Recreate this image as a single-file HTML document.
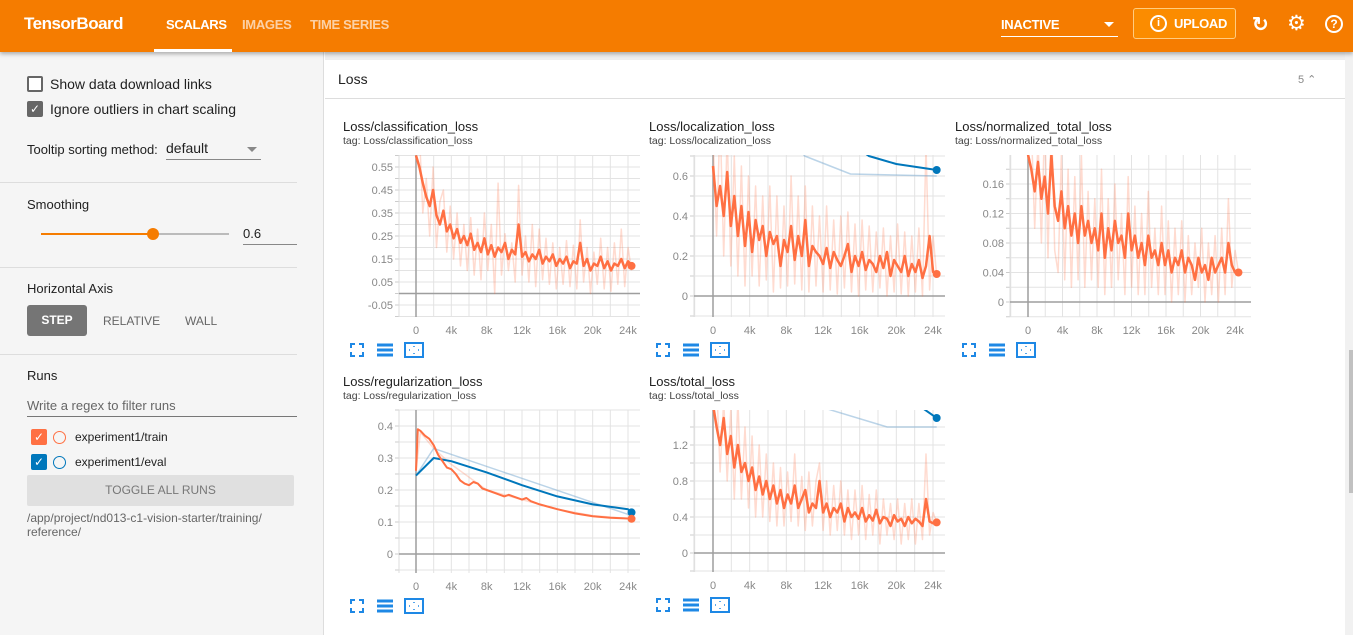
<!DOCTYPE html>
<html><head><meta charset="utf-8">
<style>
*{box-sizing:border-box;margin:0;padding:0}
body{width:1353px;height:635px;overflow:hidden;font-family:"Liberation Sans",sans-serif;background:#fff;position:relative;color:#212121}
.abs{position:absolute}
#hdr{left:0;top:0;width:1353px;height:52px;background:#f57c00;box-shadow:0 2px 4px rgba(0,0,0,.3);z-index:2}
.tab{top:17px;font-size:13px;font-weight:bold;color:rgba(255,255,255,.65);letter-spacing:-0.3px}
#side{left:0;top:52px;width:324px;height:583px;background:#f5f5f5;border-right:1px solid #ddd}
.sb{font-size:14px;color:#212121}
.hr{left:0;width:297px;height:1px;background:#ddd}
.tick{font-size:11px;fill:#888;font-family:"Liberation Sans",sans-serif}
</style></head><body>
<div id="hdr" class="abs">
  <div class="abs" style="left:24px;top:14px;font-size:17px;font-weight:bold;color:#fff;letter-spacing:-0.5px">TensorBoard</div>
  <div class="abs tab" style="left:166px;color:#fff">SCALARS</div>
  <div class="abs" style="left:154px;top:49px;width:78px;height:3px;background:#fff"></div>
  <div class="abs tab" style="left:242px">IMAGES</div>
  <div class="abs tab" style="left:310px">TIME SERIES</div>
  <div class="abs" style="left:1001px;top:17px;width:117px;height:20px;border-bottom:1px solid #fff;color:#fff;font-size:13px;font-weight:bold;letter-spacing:-0.3px">INACTIVE<span class="abs" style="right:4px;top:5px;width:0;height:0;border-left:5px solid transparent;border-right:5px solid transparent;border-top:5px solid #fff"></span></div>
  <div class="abs" style="left:1133px;top:8px;width:103px;height:31px;border:1px solid #ffcc80;border-radius:3px;background:#fb8c00;color:#fff;font-size:13px;font-weight:bold"><span class="abs" style="left:16px;top:6px;width:17px;height:17px;border:2px solid #fff;border-radius:50%;font-size:11px;text-align:center;line-height:13px">i</span><span class="abs" style="left:40px;top:7px;letter-spacing:-0.3px">UPLOAD</span></div>
  <div class="abs" style="left:1252px;top:12px;font-size:20px;color:#fff;font-weight:bold">↻</div>
  <div class="abs" style="left:1287px;top:11px;font-size:21px;color:#fff">⚙</div>
  <div class="abs" style="left:1325px;top:15px;width:18px;height:18px;border:2px solid #fff;border-radius:50%;color:#fff;font-size:12px;font-weight:bold;text-align:center;line-height:14px">?</div>
</div>

<div id="side" class="abs">
  <div class="abs" style="left:27px;top:24px;width:16px;height:16px;border:2px solid #666;border-radius:2px;background:#fff"></div>
  <div class="abs sb" style="left:50px;top:24px">Show data download links</div>
  <div class="abs" style="left:27px;top:49px;width:16px;height:16px;border-radius:2px;background:#666;color:#fff;font-size:12px;text-align:center;line-height:16px">✓</div>
  <div class="abs sb" style="left:50px;top:49px">Ignore outliers in chart scaling</div>
  <div class="abs" style="left:27px;top:90px;font-size:13px">Tooltip sorting method:</div>
  <div class="abs" style="left:166px;top:88px;width:95px;height:20px;border-bottom:1px solid #888;font-size:14px">default<span class="abs" style="right:4px;top:7px;border-left:5px solid transparent;border-right:5px solid transparent;border-top:5px solid #888"></span></div>
  <div class="abs hr" style="top:130px"></div>
  <div class="abs" style="left:27px;top:145px;font-size:13px">Smoothing</div>
  <div class="abs" style="left:41px;top:181px;width:112px;height:2px;background:#f57c00"></div>
  <div class="abs" style="left:153px;top:181px;width:76px;height:2px;background:#bbb"></div>
  <div class="abs" style="left:147px;top:176px;width:12px;height:12px;border-radius:50%;background:#f57c00"></div>
  <div class="abs" style="left:243px;top:174px;width:54px;height:19px;border-bottom:1px solid #888;font-size:13px">0.6</div>
  <div class="abs hr" style="top:215px"></div>
  <div class="abs" style="left:27px;top:229px;font-size:13px">Horizontal Axis</div>
  <div class="abs" style="left:27px;top:253px;width:60px;height:31px;background:#757575;border-radius:3px;color:#fff;font-size:12px;font-weight:bold;text-align:center;line-height:31px">STEP</div>
  <div class="abs" style="left:103px;top:262px;font-size:12px;color:#666">RELATIVE</div>
  <div class="abs" style="left:185px;top:262px;font-size:12px;color:#666">WALL</div>
  <div class="abs hr" style="top:302px"></div>
  <div class="abs" style="left:27px;top:316px;font-size:13px">Runs</div>
  <div class="abs" style="left:27px;top:346px;width:270px;height:19px;border-bottom:1px solid #777;font-size:13px;color:#666">Write a regex to filter runs</div>
  <div class="abs" style="left:31px;top:377px;width:16px;height:16px;background:#ff7043;border-radius:2px;color:#fff;font-size:12px;text-align:center;line-height:16px">✓</div>
  <div class="abs" style="left:53px;top:379px;width:13px;height:13px;border:1.5px solid #ff7043;border-radius:50%"></div>
  <div class="abs" style="left:75px;top:378px;font-size:12px">experiment1/train</div>
  <div class="abs" style="left:31px;top:402px;width:16px;height:16px;background:#0077bb;border-radius:2px;color:#fff;font-size:12px;text-align:center;line-height:16px">✓</div>
  <div class="abs" style="left:53px;top:404px;width:13px;height:13px;border:1.5px solid #0077bb;border-radius:50%"></div>
  <div class="abs" style="left:75px;top:403px;font-size:12px">experiment1/eval</div>
  <div class="abs" style="left:27px;top:423px;width:267px;height:31px;background:#e0e0e0;border-radius:2px;color:#777;font-size:12px;text-align:center;line-height:31px">TOGGLE ALL RUNS</div>
  <div class="abs" style="left:27px;top:459px;font-size:12px;color:#666;line-height:14px">/app/project/nd013-c1-vision-starter/training/<br>reference/</div>
</div>

<div class="abs" style="left:325px;top:52px;width:1020px;height:8px;background:#eee"></div>
<div class="abs" style="left:325px;top:60px;width:1020px;height:39px;border-bottom:1px solid #ddd;background:#fff">
  <div class="abs" style="left:13px;top:11px;font-size:14px">Loss</div>
  <div class="abs" style="left:973px;top:13px;font-size:11px;color:#888">5 &#8963;</div>
</div>
<div class="abs" style="left:1345px;top:52px;width:8px;height:583px;background:#f1f1f1"></div>
<div class="abs" style="left:1349px;top:350px;width:4px;height:143px;background:#c1c1c1"></div>

<svg class="abs" style="left:0;top:0" width="1353" height="635" id="charts"></svg>

<script>
// ---------- data ----------
const maxStep = 24400;
const clsTrain = [0.60,0.55,0.48,0.42,0.38,0.45,0.34,0.30,0.36,0.27,0.30,0.24,0.28,0.22,0.25,0.21,0.26,0.19,0.22,0.18,0.24,0.17,0.21,0.16,0.20,0.18,0.22,0.15,0.19,0.17,0.30,0.16,0.18,0.14,0.17,0.15,0.19,0.13,0.16,0.14,0.17,0.12,0.15,0.13,0.16,0.11,0.14,0.13,0.22,0.12,0.15,0.10,0.13,0.12,0.16,0.11,0.14,0.10,0.13,0.12,0.15,0.11,0.14,0.12];
const clsRaw = [0.60,0.70,0.35,0.50,0.25,0.55,0.20,0.40,0.45,0.18,0.38,0.15,0.35,0.12,0.30,0.10,0.33,0.08,0.28,0.06,0.35,0.10,0.30,0.00,0.48,0.08,0.26,0.10,0.22,0.05,0.47,0.08,0.25,0.05,0.30,0.03,0.28,0.06,0.24,0.04,0.22,0.02,0.20,0.04,0.23,0.03,0.21,0.02,0.32,0.05,0.20,0.00,0.18,0.04,0.24,0.02,0.20,0.01,0.22,0.04,0.28,0.03,0.20,0.10];
const locTrain = [0.65,0.45,0.55,0.40,0.62,0.35,0.50,0.30,0.45,0.25,0.42,0.22,0.38,0.28,0.35,0.20,0.32,0.26,0.30,0.15,0.28,0.22,0.35,0.18,0.30,0.20,0.38,0.15,0.25,0.22,0.20,0.16,0.24,0.14,0.22,0.18,0.15,0.20,0.26,0.12,0.20,0.15,0.22,0.13,0.18,0.16,0.12,0.20,0.14,0.22,0.10,0.18,0.15,0.12,0.20,0.10,0.16,0.12,0.18,0.09,0.15,0.30,0.12,0.11];
const locRaw = [0.8,0.3,0.9,0.2,0.8,0.15,0.7,0.1,0.65,0.05,0.6,0.1,0.55,0.05,0.5,0.08,0.55,0.02,0.5,0.04,0.45,0.05,0.6,0.06,0.5,0.03,0.55,0.02,0.45,0.05,0.4,0.02,0.45,0.03,0.38,0.01,0.4,0.04,0.42,0.02,0.36,0.0,0.38,0.03,0.35,0.02,0.32,0.04,0.34,0.0,0.30,0.02,0.36,0.01,0.32,0.0,0.30,0.02,0.34,0.0,0.75,0.03,0.30,0.10];
const locEvalSteps = [0,2000,10000,15000,24400];
const locEvalRaw = [1.6,1.2,0.7,0.61,0.60];
const locEvalSmSteps = [0,2000,8000,14000,17000,20000,24400];
const locEvalSm = [1.6,1.4,1.0,0.8,0.70,0.66,0.63];
const normTrain = [0.20,0.18,0.15,0.19,0.14,0.17,0.12,0.20,0.13,0.11,0.15,0.10,0.13,0.09,0.12,0.08,0.13,0.09,0.11,0.08,0.10,0.07,0.12,0.06,0.10,0.07,0.11,0.08,0.09,0.06,0.12,0.07,0.09,0.06,0.08,0.05,0.09,0.06,0.07,0.05,0.08,0.05,0.07,0.04,0.06,0.05,0.07,0.04,0.06,0.05,0.03,0.06,0.04,0.05,0.03,0.06,0.04,0.05,0.06,0.04,0.08,0.05,0.04,0.04];
const normRaw = [0.22,0.24,0.10,0.22,0.08,0.25,0.06,0.26,0.07,0.04,0.20,0.03,0.18,0.02,0.17,0.03,0.20,0.02,0.15,0.03,0.14,0.02,0.18,0.01,0.14,0.02,0.16,0.03,0.12,0.01,0.17,0.02,0.13,0.01,0.12,0.01,0.15,0.02,0.10,0.01,0.13,0.01,0.11,0.0,0.10,0.01,0.11,0.0,0.09,0.01,0.08,0.02,0.10,0.0,0.08,0.01,0.09,0.0,0.10,0.01,0.14,0.02,0.07,0.04];
const regSteps = [0,200,500,1000,1500,2000,2500,3000,3500,4000,4500,5000,5500,6000,6500,7000,7500,8000,9000,10000,10500,11000,12000,12500,13000,14000,16000,18000,20000,22000,24000,24400];
const regTrain = [0.26,0.39,0.385,0.37,0.36,0.34,0.31,0.29,0.27,0.265,0.25,0.23,0.22,0.215,0.225,0.22,0.205,0.2,0.19,0.18,0.185,0.18,0.17,0.175,0.165,0.155,0.14,0.127,0.118,0.113,0.111,0.11];
const regRawSteps = [0,500,2000,4000,6000,8000,12000,16000,20000,24400];
const regRaw = [0.26,0.38,0.33,0.28,0.24,0.2,0.17,0.14,0.12,0.11];
const regEvalRawSteps = [0,2000,24400];
const regEvalRaw = [0.245,0.33,0.12];
const regEvalSmSteps = [0,2000,4000,8000,12000,16000,20000,24000,24400];
const regEvalSm = [0.245,0.30,0.29,0.255,0.215,0.18,0.155,0.14,0.13];
const totTrain = [1.65,1.4,1.2,1.5,1.1,1.3,0.95,1.2,0.9,1.0,0.8,0.95,0.7,0.85,0.65,0.8,0.6,0.75,0.55,0.7,0.5,0.65,0.55,0.75,0.5,0.6,0.7,0.45,0.55,0.5,0.8,0.45,0.55,0.4,0.5,0.45,0.55,0.35,0.5,0.4,0.45,0.38,0.5,0.35,0.42,0.36,0.48,0.33,0.4,0.38,0.3,0.42,0.35,0.38,0.3,0.4,0.33,0.38,0.35,0.3,0.6,0.35,0.33,0.34];
const totRaw = [1.8,1.9,0.9,1.7,0.8,1.6,0.6,1.7,0.6,1.4,0.5,1.3,0.4,1.2,0.4,1.1,0.35,1.0,0.3,0.95,0.3,0.9,0.35,1.1,0.3,0.85,0.25,0.9,0.3,0.8,1.0,0.25,0.8,0.2,0.75,0.25,0.8,0.2,0.7,0.15,0.7,0.2,0.75,0.15,0.65,0.2,0.7,0.1,0.6,0.2,0.55,0.15,0.6,0.1,0.55,0.15,0.6,0.1,0.55,0.15,1.1,0.2,0.45,0.34];
const totEvalRawSteps = [0,2000,12500,19000,24400];
const totEvalRaw = [3.5,2.5,1.6,1.4,1.4];
const totEvalSmSteps = [0,2000,10000,20000,23000,24400];
const totEvalSm = [3.5,3.2,2.5,1.9,1.6,1.5];
const xTickLabels = ["0","4k","8k","12k","16k","20k","24k"];
const xTickSteps = [0,4000,8000,12000,16000,20000,24000];

// ---------- drawing ----------
const svg = document.getElementById('charts');
const NS = 'http://www.w3.org/2000/svg';
function mk(tag, attrs, parent){ const e=document.createElementNS(NS,tag); for(const k in attrs) e.setAttribute(k,attrs[k]); (parent||svg).appendChild(e); return e; }
function idxSteps(arr){ return arr.map((_,i)=>i*maxStep/(arr.length-1)); }

function chart(c){
  const g = mk('g',{});
  
  
  const X = s => c.x0 + s*(c.x24-c.x0)/24000;
  const Y = v => c.yRefPx - (v - c.yRef)*c.pxPerUnit;
  const sMin = (c.left-c.x0)*24000/(c.x24-c.x0), sMax=(c.right-c.x0)*24000/(c.x24-c.x0);
  const vMax = c.yRef + (c.yRefPx-c.top)/c.pxPerUnit, vMin = c.yRef - (c.bottom-c.yRefPx)/c.pxPerUnit;
  const t = mk('text',{x:c.tx,y:c.top-24,'font-size':13,fill:'#212121','font-family':'Liberation Sans'},g); t.textContent=c.title;
  
  
  const t2 = mk('text',{x:c.tx,y:c.top-11,'font-size':10.5,fill:'#424242','font-family':'Liberation Sans'},g); t2.textContent='tag: '+c.title;
  
  
  for(let s=-2000;s<=sMax;s+=2000){ if(s<sMin) continue; mk('line',{x1:X(s),x2:X(s),y1:c.top,y2:c.bottom,stroke:'#e3e3e3','stroke-width':1},g); }
  const gstep=c.grid;
  for(let v=Math.ceil(vMin/gstep)*gstep; v<=vMax+1e-9; v+=gstep){ mk('line',{x1:c.left,x2:c.right,y1:Y(v),y2:Y(v),stroke:'#e3e3e3'},g); mk('line',{x1:c.left-4,x2:c.left,y1:Y(v),y2:Y(v),stroke:'#ccc'},g); }
  mk('line',{x1:c.left,x2:c.left,y1:c.top,y2:c.bottom,stroke:'#ddd'},g);
  if(vMin<0) mk('line',{x1:c.left,x2:c.right,y1:Y(0),y2:Y(0),stroke:'#9e9e9e','stroke-width':1.5},g);
  mk('line',{x1:X(0),x2:X(0),y1:c.top,y2:c.bottom,stroke:'#9e9e9e','stroke-width':1.5},g);
  c.yTicks.forEach((v,i)=>{ const e=mk('text',{x:c.left-6,y:Y(v)+4,'text-anchor':'end',class:'tick'},g); e.textContent=c.yLabels[i]; });
  xTickSteps.forEach((s,i)=>{ const e=mk('text',{x:X(s),y:c.bottom+17,'text-anchor':'middle',class:'tick'},g); e.textContent=xTickLabels[i]; });
  const cid='clip'+c.name; const cp=mk('clipPath',{id:cid},g); mk('rect',{x:c.left,y:c.top,width:c.right-c.left,height:c.bottom-c.top},cp);
  const pg=mk('g',{'clip-path':'url(#'+cid+')'},g);
  function line(steps, vals, color, w, nm){
    const p=mk('polyline',{points:steps.map((s,i)=>X(s).toFixed(1)+','+Y(vals[i]).toFixed(1)).join(' '),fill:'none',stroke:color,'stroke-width':w,'stroke-linejoin':'round'},pg);
    
    
  }
  c.series.forEach(s=>line(s.steps||idxSteps(s.vals), s.vals, s.color, s.w, s.nm));
  c.dots.forEach(d=>{ const steps=d.steps||idxSteps(d.vals); const v=d.vals[d.vals.length-1]; const cc=mk('circle',{cx:X(steps[steps.length-1]),cy:Y(v),r:4,fill:d.color},g);
    
     });
  const iy=c.bottom+33;
  const ic=[c.tx+14,c.tx+42,c.tx+71];
  const f=mk('g',{},g);  
  mk('path',{d:`M${ic[0]-6} ${iy-2}v-4h4M${ic[0]+2} ${iy-6}h4v4M${ic[0]+6} ${iy+2}v4h-4M${ic[0]-2} ${iy+6}h-4v-4`,stroke:'#1e88e5','stroke-width':2,fill:'none'},f);
  const l=mk('g',{},g);  
  [-5,0,5].forEach(d=>mk('rect',{x:ic[1]-8,y:iy+d-1.5,width:16,height:3,fill:'#1e88e5'},l));
  const fit=mk('g',{},g);  
  mk('rect',{x:ic[2]-9,y:iy-7,width:18,height:14,fill:'none',stroke:'#1e88e5','stroke-width':2},fit);
  mk('path',{d:`M${ic[2]} ${iy-4}v1M${ic[2]} ${iy+3}v1M${ic[2]-5} ${iy}h1M${ic[2]+4} ${iy}h1`,stroke:'#1e88e5','stroke-width':1.5},fit);
}

const OR='#ff7043', ORL='rgba(255,112,67,0.25)', BL='#0077bb', BLL='rgba(120,170,210,0.5)';
chart({name:'classification-loss',title:'Loss/classification_loss',tx:343,left:399,right:640,top:155,bottom:317,x0:416,x24:628,
  yRef:0.55,yRefPx:167,pxPerUnit:230,grid:0.05,yTicks:[0.55,0.45,0.35,0.25,0.15,0.05,-0.05],yLabels:['0.55','0.45','0.35','0.25','0.15','0.05','-0.05'],
  series:[{vals:clsRaw,color:ORL,w:1.5,nm:'train-raw-line'},{vals:clsTrain,color:OR,w:2.5,nm:'train-smoothed-line'}],
  dots:[{vals:clsTrain,color:OR,nm:'train-last-point'}]});
chart({name:'localization-loss',title:'Loss/localization_loss',tx:649,left:694,right:945,top:155,bottom:317,x0:713,x24:933,
  yRef:0,yRefPx:296,pxPerUnit:200,grid:0.1,yTicks:[0,0.2,0.4,0.6],yLabels:['0','0.2','0.4','0.6'],
  series:[{vals:locRaw,color:ORL,w:1.5,nm:'train-raw-line'},{steps:locEvalSteps,vals:locEvalRaw,color:BLL,w:1.5,nm:'eval-raw-line'},{steps:locEvalSmSteps,vals:locEvalSm,color:BL,w:2,nm:'eval-smoothed-line'},{vals:locTrain,color:OR,w:2.5,nm:'train-smoothed-line'}],
  dots:[{vals:locTrain,color:OR,nm:'train-last-point'},{steps:locEvalSmSteps,vals:locEvalSm,color:BL,nm:'eval-last-point'}]});
chart({name:'normalized-total-loss',title:'Loss/normalized_total_loss',tx:955,left:1010,right:1251,top:155,bottom:317,x0:1028,x24:1235,
  yRef:0,yRefPx:302,pxPerUnit:737.5,grid:0.02,yTicks:[0,0.04,0.08,0.12,0.16],yLabels:['0','0.04','0.08','0.12','0.16'],
  series:[{vals:normRaw,color:ORL,w:1.5,nm:'train-raw-line'},{vals:normTrain,color:OR,w:2.5,nm:'train-smoothed-line'}],
  dots:[{vals:normTrain,color:OR,nm:'train-last-point'}]});
chart({name:'regularization-loss',title:'Loss/regularization_loss',tx:343,left:399,right:640,top:410,bottom:573,x0:416,x24:628,
  yRef:0,yRefPx:554,pxPerUnit:320,grid:0.05,yTicks:[0,0.1,0.2,0.3,0.4],yLabels:['0','0.1','0.2','0.3','0.4'],
  series:[{steps:regRawSteps,vals:regRaw,color:ORL,w:1.5,nm:'train-raw-line'},{steps:regEvalRawSteps,vals:regEvalRaw,color:BLL,w:1.5,nm:'eval-raw-line'},{steps:regEvalSmSteps,vals:regEvalSm,color:BL,w:2,nm:'eval-smoothed-line'},{steps:regSteps,vals:regTrain,color:OR,w:2,nm:'train-smoothed-line'}],
  dots:[{steps:regEvalSmSteps,vals:regEvalSm,color:BL,nm:'eval-last-point'},{steps:regSteps,vals:regTrain,color:OR,nm:'train-last-point'}]});
chart({name:'total-loss',title:'Loss/total_loss',tx:649,left:694,right:945,top:410,bottom:572,x0:713,x24:933,
  yRef:0,yRefPx:553,pxPerUnit:90,grid:0.2,yTicks:[0,0.4,0.8,1.2],yLabels:['0','0.4','0.8','1.2'],
  series:[{vals:totRaw,color:ORL,w:1.5,nm:'train-raw-line'},{steps:totEvalRawSteps,vals:totEvalRaw,color:BLL,w:1.5,nm:'eval-raw-line'},{steps:totEvalSmSteps,vals:totEvalSm,color:BL,w:2,nm:'eval-smoothed-line'},{vals:totTrain,color:OR,w:2.5,nm:'train-smoothed-line'}],
  dots:[{vals:totTrain,color:OR,nm:'train-last-point'},{steps:totEvalSmSteps,vals:totEvalSm,color:BL,nm:'eval-last-point'}]});
</script>
</body></html>
